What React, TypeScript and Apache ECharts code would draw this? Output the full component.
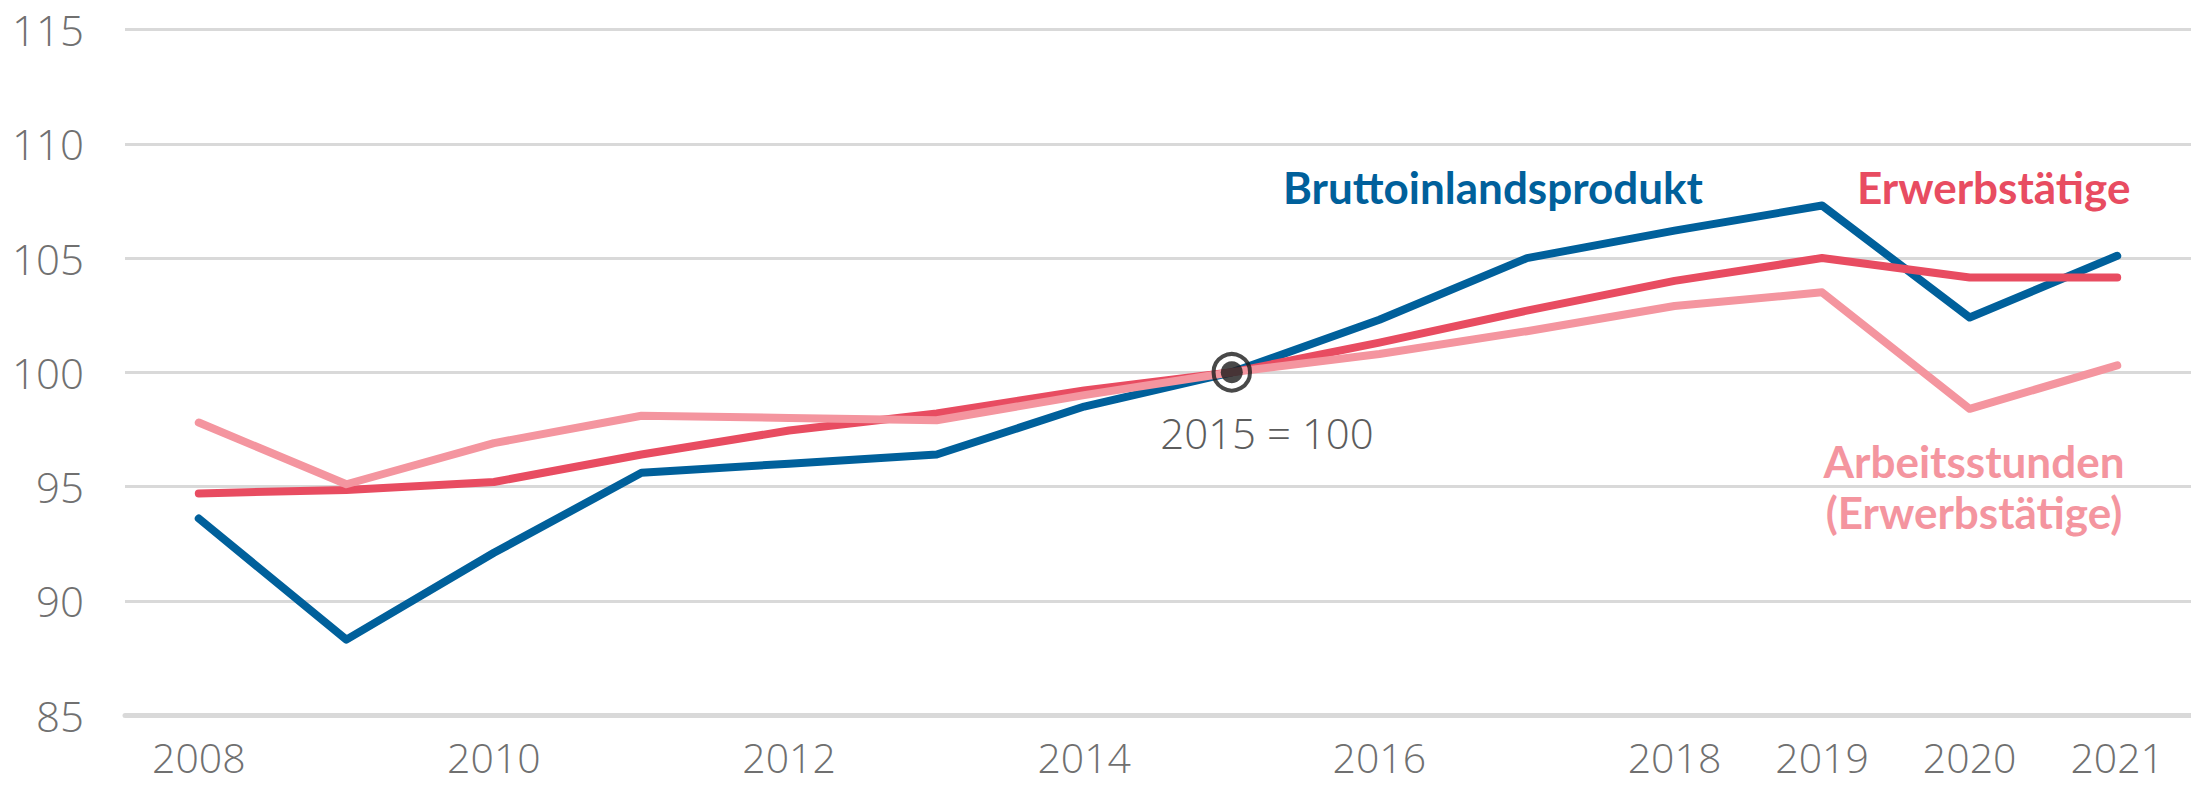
import React, { useEffect, useRef } from "react";
import * as echarts from "echarts";

const years = ["2008", "2009", "2010", "2011", "2012", "2013", "2014", "2015", "2016", "2017", "2018", "2019", "2020", "2021"];
const shownYearLabels = ["2008", "2010", "2012", "2014", "2016", "2018", "2019", "2020", "2021"];
const bip = [93.6, 88.3, 92.1, 95.6, 96.0, 96.4, 98.5, 100, 102.3, 105.0, 106.2, 107.3, 102.4, 105.1];
const erwerbstaetige = [94.7, 94.85, 95.2, 96.4, 97.45, 98.2, 99.2, 100, 101.3, 102.7, 104.0, 105.0, 104.15, 104.15];
const arbeitsstunden = [97.8, 95.1, 96.9, 98.1, 98.0, 97.9, 99.0, 100, 100.8, 101.8, 102.9, 103.5, 98.4, 100.3];
const baseYear = "2015";
const baseValue = 100;
const yMin = 85;
const yMax = 115;
const yInterval = 5;

const BLUE = "#00609b";
const RED = "#e84c61";
const PINK = "#f4959f";

export default function App() {
  const ref = useRef<HTMLDivElement>(null);
  useEffect(() => {
    if (!ref.current) return;
    const chart = echarts.init(ref.current, undefined, { renderer: "svg" });
    const lineStyle = (c: string) => ({ color: c, width: 8, cap: "round", join: "round" });
    chart.setOption({
      animation: false,
      backgroundColor: "#ffffff",
      grid: { left: 125, right: 0, top: 29.6, bottom: 72, containLabel: false },
      xAxis: {
        type: "category",
        data: years,
        boundaryGap: true,
        axisLine: { show: true, lineStyle: { color: "#d9d9d9", width: 5 } },
        axisTick: { show: false },
        splitLine: { show: false },
        axisLabel: {
          interval: (_i: number, v: string) => shownYearLabels.includes(v),
          color: "#707070",
          fontFamily: "Open Sans",
          fontWeight: 300,
          fontSize: 41,
          lineHeight: 34,
          margin: 25,
        },
      },
      yAxis: {
        type: "value",
        min: yMin,
        max: yMax,
        interval: yInterval,
        axisLine: { show: false },
        axisTick: { show: false },
        splitLine: { show: true, lineStyle: { color: "#d9d9d9", width: 3 } },
        axisLabel: {
          color: "#707070",
          fontFamily: "Open Sans",
          fontWeight: 300,
          fontSize: 42,
          margin: 41,
        },
      },
      series: [
        { type: "line", name: "Bruttoinlandsprodukt", data: bip, symbol: "none", lineStyle: lineStyle(BLUE), z: 2 },
        { type: "line", name: "Erwerbstätige", data: erwerbstaetige, symbol: "none", lineStyle: lineStyle(RED), z: 3 },
        { type: "line", name: "Arbeitsstunden (Erwerbstätige)", data: arbeitsstunden, symbol: "none", lineStyle: lineStyle(PINK), z: 4 },
        {
          type: "scatter",
          data: [[baseYear, baseValue]],
          symbol: "circle",
          symbolSize: 36.5,
          itemStyle: { color: "rgba(0,0,0,0)", borderColor: "#1b1b1b", borderWidth: 4 },
          z: 10,
        },
        {
          type: "scatter",
          data: [[baseYear, baseValue]],
          symbol: "circle",
          symbolSize: 22,
          itemStyle: { color: "#1b1b1b" },
          z: 11,
        },
      ],
      graphic: [
        {
          type: "text", x: 1267, y: 432,
          style: { text: "2015 = 100", fill: "#5c5c5c", font: "300 42px 'Open Sans'", align: "center", verticalAlign: "middle" },
        },
        {
          type: "text", x: 1283, y: 187,
          style: { text: "Bruttoinlandsprodukt", fill: BLUE, font: "bold 44px Lato", align: "left", verticalAlign: "middle" },
        },
        {
          type: "text", x: 1857, y: 187,
          style: { text: "Erwerbstätige", fill: RED, font: "bold 44px Lato", align: "left", verticalAlign: "middle" },
        },
        {
          type: "text", x: 1974, y: 461,
          style: { text: "Arbeitsstunden", fill: PINK, font: "bold 44px Lato", align: "center", verticalAlign: "middle" },
        },
        {
          type: "text", x: 1974, y: 512,
          style: { text: "(Erwerbstätige)", fill: PINK, font: "bold 44px Lato", align: "center", verticalAlign: "middle" },
        },
      ],
    });
    return () => chart.dispose();
  }, []);
  return <div ref={ref} style={{ position: "fixed", left: 0, top: 0, width: 2191, height: 787 }} />;
}
